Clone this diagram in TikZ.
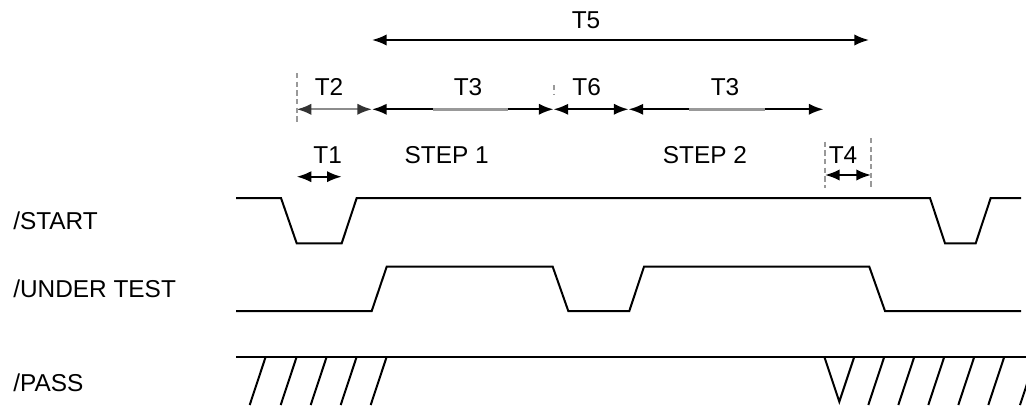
\documentclass[tikz,border=0pt]{standalone}
\usepackage{fontspec}
\setmainfont{Liberation Sans}
\usetikzlibrary{arrows.meta}

\tikzset{
  lbl/.style={inner sep=0pt},
  wave/.style={line width=1.5pt, line join=miter},
  dim/.style={line width=1.5pt,
    arrows={Latex[length=11pt,width=8.5pt]-Latex[length=11pt,width=8.5pt]}},
  dimgray/.style={line width=1.5pt, draw=black!45,
    arrows={Latex[length=11pt,width=8.5pt,color=black!80]-Latex[length=11pt,width=8.5pt,color=black!80]}},
  guide/.style={draw=black!40, line width=1.4pt, dash pattern=on 4pt off 2.5pt},
  blur/.style={draw=black!40, line width=2.6pt}
}

\begin{document}
\begin{tikzpicture}[x=0.75pt,y=-0.75pt,
      font=\fontsize{18.3}{21}\selectfont]
    \useasboundingbox (0,0) rectangle (1026,405);
    \clip (0,0) rectangle (1026,405);

    % signal names
    \node[lbl,anchor=west](start) at (13,221){/START};
    \node[lbl,anchor=west](utest) at (13,289){/UNDER TEST};
    \node[lbl,anchor=west](pass) at (13,383){/PASS};

    % /START
    \draw[wave] (236,198) -- (281,198) -- (296.7,243.3) -- (341.7,243.3)
      -- (356.7,198) -- (930,198) -- (945,243.3) -- (975.7,243.3)
      -- (990.7,198) -- (1021,198);
    % /UNDER TEST
    \draw[wave] (236,311) -- (371.7,311) -- (386.7,266.7) -- (552.7,266.7)
      -- (568.3,311) -- (629.3,311) -- (644,266.7) -- (869.3,266.7)
      -- (885,311) -- (1021,311);
    % /PASS
    \draw[wave] (236,356.7) -- (1026,356.7);
    \foreach \x in {265.7,296.7,326.7,356.7,386.7}
      \draw[wave] (\x,356.7) -- ++(-16,48.3);
    \draw[wave] (824.3,356.7) -- (839.3,401.7) -- (854.3,356.7);
    \foreach \x in {884.3,914.3,944.3,974.3,1004.3,1036}
      \draw[wave] (\x,356.7) -- ++(-16,48.3);

    % timing marks
    \coordinate (t5a) at (372,40);
    \coordinate (t5b) at (869,40);
    \coordinate (t2a) at (296.7,109.3);
    \coordinate (t2b) at (372,109.3);
    \coordinate (t3b) at (553.5,109.3);
    \coordinate (t6b) at (628.5,109.3);
    \coordinate (t3d) at (823.5,109.3);
    \coordinate (t1a) at (296.7,176.7);
    \coordinate (t1b) at (341.7,176.7);
    \coordinate (t4a) at (825,175);
    \coordinate (t4b) at (871,175);

    \draw[dim] (t5a) -- (t5b);
    \draw[dimgray] (t2a) -- (t2b);
    \draw[dim] (t2b) -- (t3b);
    \draw[dim] (t3b) -- (t6b);
    \draw[dim] (t6b) -- (t3d);
    \draw[dim] (t1a) -- (t1b);
    \draw[dim] (t4a) -- (t4b);

    \draw[blur] (432.7,109.3) -- (507.7,109.3);
    \draw[blur] (689.3,109.3) -- (765,109.3);

    % guides
    \draw[guide] (t2a) ++(0,-36.3) -- ++(0,49);
    \draw[guide] (554,85) -- (554,95);
    \draw[guide] (t4a) ++(0,-33.3) -- ++(0,46.6);
    \draw[guide] (t4b) ++(0,-37) -- ++(0,50);

    % labels
    \node[lbl](lt5) at (586,20.7){T5};
    \node[lbl](lt2) at (329,86.7){T2};
    \node[lbl](lt3a) at (468,86.7){T3};
    \node[lbl](lt6) at (586.7,86.7){T6};
    \node[lbl](lt3b) at (725,86.7){T3};
    \node[lbl](lt1) at (327.7,155){T1};
    \node[lbl](step1) at (446.7,155){STEP 1};
    \node[lbl](step2) at (705,155){STEP 2};
    \node[lbl](lt4) at (843,155){T4};

\end{tikzpicture}
\end{document}
